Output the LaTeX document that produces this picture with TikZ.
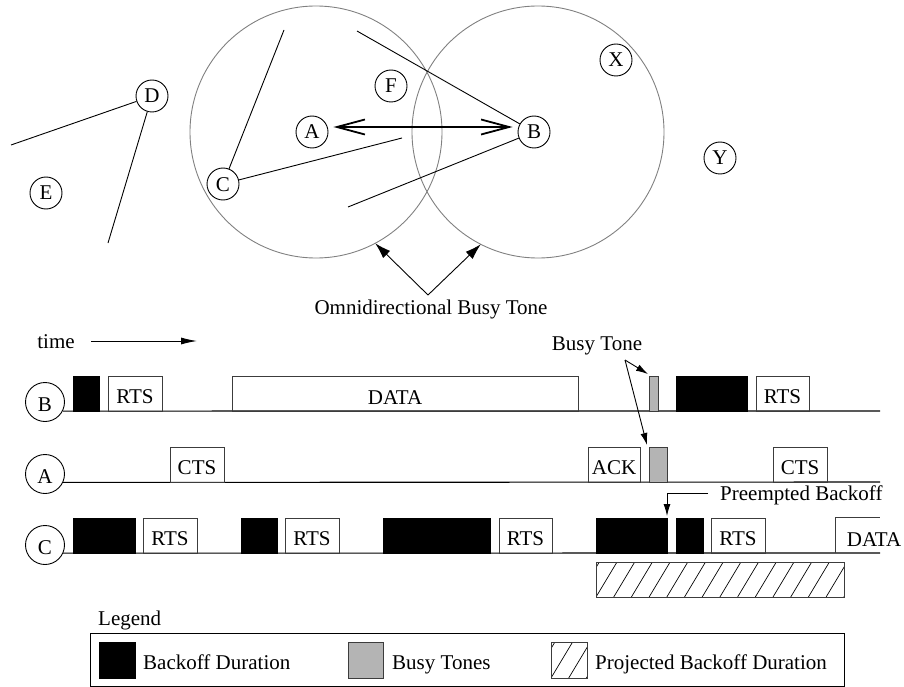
\documentclass[tikz,border=0pt]{standalone}
\usepackage{fontspec}
\setmainfont{Liberation Serif}
\usetikzlibrary{arrows.meta}
\definecolor{rangegray}{RGB}{128,128,128}
\definecolor{tonegray}{RGB}{180,180,180}
\definecolor{boxgray}{RGB}{60,60,60}
\newcommand{\myhatch}[4]{%
  \begin{scope}
    \clip (#1,#2) rectangle (#3,#4);
    \foreach \k in {-3,...,16}{%
      \draw[hatchline] ({#1+17.7*\k},#4) -- ({#1+17.7*\k+0.6*(#4-#2)},#2);
    }
  \end{scope}
  \draw[boxline] (#1,#2) rectangle (#3,#4);
}
\begin{document}
\begin{tikzpicture}[x=1pt,y=-1pt,
  every node/.style={font=\fontsize{21}{24}\selectfont},
  stn/.style={circle,draw,line width=0.9pt,minimum size=32pt,inner sep=0pt,text height=14pt,text depth=0pt},
  tln/.style={circle,draw,line width=0.9pt,minimum size=39pt,inner sep=0pt,text height=19pt,text depth=0pt},
  rangecirc/.style={circle,draw=rangegray,line width=0.9pt,minimum size=252pt,inner sep=0pt,outer sep=0pt},
  link/.style={line width=0.9pt},
  boxline/.style={draw=boxgray,line width=0.9pt},
  msg/.style={draw=boxgray,line width=0.9pt,inner sep=0pt,outer sep=0pt,anchor=south west,minimum height=35pt,text height=20pt,text depth=0pt},
  bo/.style={fill=black,draw=black,line width=0.9pt,inner sep=0pt,outer sep=0pt,anchor=south west,minimum height=35pt},
  tonebox/.style={fill=tonegray,draw=boxgray,line width=0.9pt,inner sep=0pt,outer sep=0pt,anchor=south west,minimum height=35pt},
  axis/.style={line width=1.1pt},
  hatchline/.style={line width=0.7pt},
  lbl/.style={inner sep=0pt,text height=14pt,text depth=0pt}]
\useasboundingbox (0,0) rectangle (904,687);

% ---- ranges
\node[rangecirc] (R1) at (316,132) {};
\node[rangecirc] (R2) at (538,132) {};

% ---- stations
\node[stn] (D) at (152,96) {D};
\node[stn] (E) at (46,193) {E};
\node[stn] (C) at (223,184) {C};
\node[stn] (A) at (312,132) {A};
\node[stn] (F) at (391,86) {F};
\node[stn] (B) at (534,132) {B};
\node[stn] (X) at (616,60) {X};
\node[stn] (Y) at (720,158) {Y};

\coordinate (d1) at (11,145);
\coordinate (d2) at (108,243);
\coordinate (c1) at (284,30);
\coordinate (c2) at (402,138);
\coordinate (b1) at (357,31);
\coordinate (b2) at (348,207);
\draw[link] (D) -- (d1);
\draw[link] (D) -- (d2);
\draw[link] (C) -- (c1);
\draw[link] (C) -- (c2);
\draw[link] (B) -- (b1);
\draw[link] (B) -- (b2);

\draw[line width=1.8pt,{Straight Barb[length=28pt,width=15pt]}-{Straight Barb[length=28pt,width=15pt]}]
  ([xshift=5pt,yshift=5pt]A.east) -- ([xshift=-5pt,yshift=5pt]B.west);

% ---- omnidirectional busy tone
\node[lbl] (omni) at (431,307) {Omnidirectional Busy Tone};
\coordinate (ov) at (428,295);
\draw[link,-{Latex[length=16pt,width=10pt]}] (ov) -- (R1.298);
\draw[link,-{Latex[length=16pt,width=10pt]}] (ov) -- (R2.243);

% ---- time axis
\node[lbl] (time) at (56,341) {time};
\coordinate (t1) at (91,341);
\coordinate (t2) at (197,341);
\draw[link,-{Latex[length=16pt,width=7pt]}] (t1) -- (t2);

% ---- timelines
\node[tln] (tB) at (45,402) {B};
\node[tln] (tA) at (45,474) {A};
\node[tln] (tC) at (45,545) {C};
\coordinate (eB) at (880,411);
\coordinate (eA) at (880,482);
\coordinate (eC) at (880,553);
\draw[axis] (tB.-27) -- (eB);
\draw[axis] (tA.-25) -- (eA);
\draw[axis] (tC.-24) -- (eC);

% B line
\node[bo,minimum width=26pt] (bBo1) at (73,411) {};
\node[msg,minimum width=54pt] (bRTS1) at (108,411) {RTS};
\node[msg,minimum width=346pt] (bDATA) at (232,411) {};
\node[lbl] (bDATAt) at (395,397) {DATA};
\node[tonebox,minimum width=9pt] (toneB) at (649,411) {};
\node[bo,minimum width=71pt] (bBo2) at (676,411) {};
\node[msg,minimum width=53pt] (bRTS2) at (756,411) {RTS};

% A line
\node[msg,minimum width=54pt] (aCTS1) at (170,482) {CTS};
\node[msg,minimum width=52pt] (aACK) at (588,482) {ACK};
\node[tonebox,minimum width=18pt] (toneA) at (649,482) {};
\node[msg,minimum width=54pt] (aCTS2) at (773,482) {CTS};

% C line
\node[bo,minimum width=62pt] (cBo1) at (73,553) {};
\node[msg,minimum width=54pt] (cRTS1) at (143,553) {RTS};
\node[bo,minimum width=36pt] (cBo2) at (241,553) {};
\node[msg,minimum width=54pt] (cRTS2) at (285,553) {RTS};
\node[bo,minimum width=107pt] (cBo3) at (383,553) {};
\node[msg,minimum width=53pt] (cRTS3) at (499,553) {RTS};
\node[bo,minimum width=71pt] (cBo4) at (596,553) {};
\node[bo,minimum width=27pt] (cBo5) at (676,553) {};
\node[msg,minimum width=54pt] (cRTS4) at (711,553) {RTS};
\draw[boxline] (835,553) -- (835,517) -- (880,517);
\node[lbl] (cDATAt) at (874,539) {DATA};

% busy tone annotation
\node[lbl] (btone) at (597,343) {Busy Tone};
\coordinate (bv) at (625,360);
\draw[link,-{Latex[length=12pt,width=7pt]}] (bv) -- ([xshift=-1pt,yshift=2pt]toneB.north west);
\draw[link,-{Latex[length=12pt,width=7pt]}] (bv) -- ([xshift=-2pt,yshift=2pt]toneA.north west);

% preempted backoff
\node[lbl,anchor=west] (pre) at (720,493) {Preempted Backoff};
\draw[link,-{Latex[length=12pt,width=7pt]},shorten >=2pt] ([xshift=-12pt]pre.west) -| (cBo4.north east);

% projected backoff
\myhatch{596}{562}{844}{597}

% ---- legend
\node[lbl,anchor=west] (leg) at (98,618) {Legend};
\node[draw,line width=0.9pt,minimum width=754pt,minimum height=53pt,inner sep=0pt,outer sep=0pt,anchor=north west] (legbox) at (90,633) {};
\node[bo,minimum width=36pt,minimum height=36pt] (sw1) at (99,678) {};
\node[lbl,anchor=west] (sw1t) at (143,662) {Backoff Duration};
\node[tonebox,minimum width=35pt,minimum height=36pt] (sw2) at (348,678) {};
\node[lbl,anchor=west] (sw2t) at (392,662) {Busy Tones};
\myhatch{551}{642}{587}{678}
\node[lbl,anchor=west] (sw3t) at (595,662) {Projected Backoff Duration};
\end{tikzpicture}
\end{document}
